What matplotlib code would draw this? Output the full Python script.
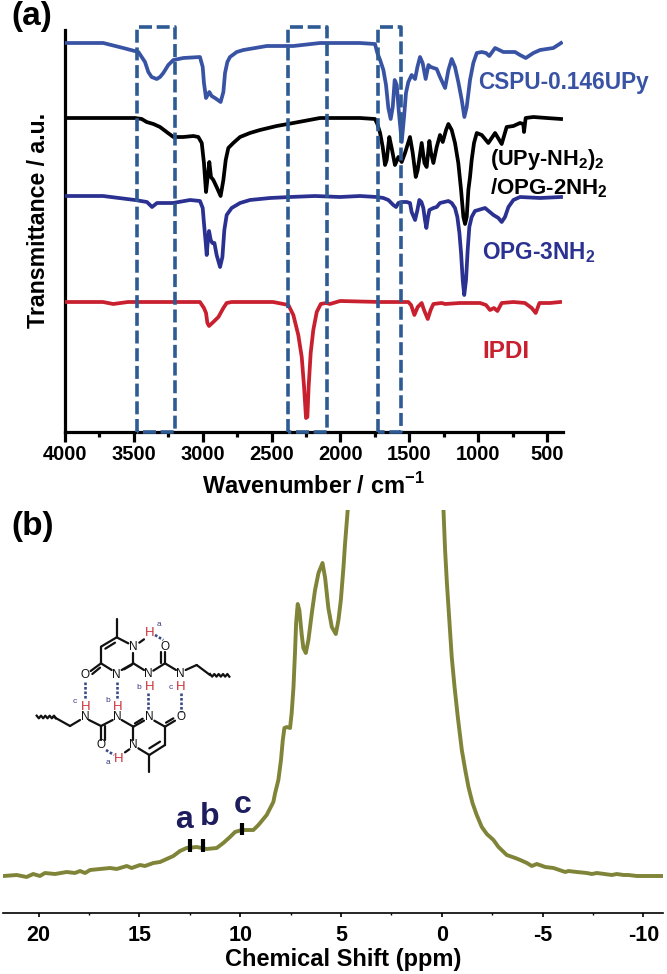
import matplotlib
matplotlib.use("Agg")
import matplotlib.pyplot as plt
from matplotlib.ticker import MultipleLocator

plt.rcParams['font.family'] = ['Liberation Sans', 'DejaVu Sans']
plt.rcParams['mathtext.fontset'] = 'custom'
plt.rcParams['mathtext.bf'] = 'Liberation Sans:bold'
plt.rcParams['mathtext.rm'] = 'Liberation Sans'
plt.rcParams['axes.unicode_minus'] = False

# ---- panel (a): FTIR, wavenumber (cm-1) and offset transmittance (a.u.)
cspu_wn = [4000,3722,3577,3467,3443,3419,3395,3371,3334,3310,3286,3250,3213,3141,3020,3000,2991,2976,2964,2952,2935,2911,2870,2850,2838,2821,2802,2753,2705,2535,2342,2148,
           1858,1749,1732,1712,1688,1669,1652,1635,1620,1606,1591,1577,1555,1538,1524,1507,1483,1458,1441,1422,1403,1381,1361,1344,1301,1277,1240,1216,1192,1168,1144,1119,1100,1083,1059,1035,1010,974,943,919,877,817,780,732,696,654,599,550,454,398]
cspu_t  = [389,389,384,380,375,370,360,355,353,355,359,367,372,374,375,365,349,334,337,340,336,334,330,340,359,370,375,380,382,386,386,389,
           389,388,379,372,362,347,324,313,325,352,347,322,290,315,339,350,357,353,365,375,369,353,367,365,363,355,344,362,373,365,350,332,315,325,352,369,379,380,379,376,384,380,380,380,377,374,379,382,384,389]

upy_wn = [4000,3492,3443,3407,3358,3310,3262,3213,3141,3068,3032,3007,2991,2976,2964,2952,2940,2923,2899,2870,2850,2833,2814,2778,2729,2657,2584,2463,2342,2148,
          1858,1749,1732,1712,1693,1676,1664,1645,1628,1604,1579,1555,1531,1495,1475,1453,1439,1410,1390,1374,1354,1342,1325,1301,1277,1257,1233,1216,
          1192,1168,1144,1124,1107,1095,1083,1071,1059,1047,1030,1010,974,926,877,829,793,744,696,672,667,655,599,502,398]
upy_t  = [314,314,313,310,308,305,300,295,295,296,295,289,269,240,255,270,255,252,245,236,252,272,284,289,295,299,302,306,309,314,
          314,313,308,299,285,267,272,295,284,267,275,270,279,295,279,255,262,289,269,265,291,279,269,285,297,290,302,308,
          302,289,269,242,215,208,215,242,255,272,289,299,297,289,299,288,305,306,309,308,300,314,315,314,313]

opg_wn = [4000,3724,3492,3405,3368,3332,3216,3092,3020,3000,2991,2978,2971,2964,2954,2942,2930,2915,2899,2874,2857,2843,2826,2790,2729,2657,2511,2366,2185,2003,
          1858,1737,1688,1652,1616,1596,1579,1555,1519,1495,1483,1458,1441,1427,1412,1398,1386,1376,1364,1354,1325,1301,1277,
          1216,1192,1168,1151,1136,1124,1112,1101,1088,1076,1064,1047,1023,950,889,853,829,805,780,744,696,550,398]
opg_t  = [236,236,232,230,225,229,229,232,231,224,209,189,177,189,201,192,189,189,177,165,175,202,217,224,229,232,234,235,236,235,
          236,235,234,232,227,225,229,230,230,229,220,212,222,232,230,224,212,204,215,222,224,225,229,
          231,229,224,215,199,179,152,137,152,182,205,215,221,224,217,214,210,215,225,232,235,234,235]

ipdi_wn = [4000,3724,3650,3543,3092,3020,2991,2976,2966,2954,2923,2886,2850,2826,2790,2489,2378,2342,2306,2281,2264,2250,2240,2231,2216,2197,2172,2143,2105,2076,2003,
           1712,1507,1487,1463,1439,1410,1393,1366,1345,1325,1265,1240,1132,986,943,914,885,860,829,744,660,611,582,555,478,405]
ipdi_t  = [130,130,128,130,130,130,124,119,109,106,110,115,124,129,130,130,127,117,97,75,45,14,15,45,79,102,120,128,129,128,131,
           130,130,127,117,125,129,122,113,122,128,129,128,129,129,127,122,124,121,129,130,129,124,119,129,129,130]

box_edges = [(3477, 3201), (2381, 2097), (1727, 1560)]
wn_ticks = [4000,3500,3000,2500,2000,1500,1000,500]

# ---- panel (b): 1H NMR
nmr_left_ppm = [21.75,21.09,20.6,20.27,19.94,19.69,19.19,18.61,18.2,17.95,17.7,17.45,16.96,16.46,16.13,15.63,15.39,14.97,14.73,14.31,13.98,13.65,13.32,12.99,12.66,12.16,11.67,11.17,10.84,10.51,10.26,9.93,9.35,9.1,8.69,8.36,
                8.27,8.11,7.98,7.89,7.81,7.69,7.53,7.45,7.36,7.28,7.23,7.15,7.07,6.95,6.87,6.75,6.62,6.45,6.29,6.12,5.92,5.79,5.63,5.46,5.26,5.13,5.01,4.88,4.8,4.67]
nmr_left_int = [37,38,36,39,37,40,39,41,40,42,40,43,44,45,44,47,45,48,47,50,51,54,57,62,65,66,64,65,70,76,81,83,83,88,98,111,
                120,133,153,173,185,186,185,200,226,263,290,309,303,278,265,260,273,300,323,340,350,335,305,286,279,293,313,346,370,403]
nmr_right_ppm = [-0.08,-0.16,-0.25,-0.36,-0.49,-0.63,-0.79,-0.99,-1.16,-1.32,-1.52,-1.73,-1.98,-2.23,-2.56,-2.81,-3.22,-3.64,-3.89,-4.22,-4.46,-4.71,-5.13,-5.54,-6.12,-6.28,-6.7,-7.19,-7.44,-7.69,-8.43,-8.68,-9.01,-9.26,-9.67,-10.34,-11.0]
nmr_right_int = [403,363,330,296,256,226,196,163,143,126,110,98,86,79,73,66,58,55,53,50,47,49,46,45,41,42,41,40,39,40,38,39,38,38,37,37,37]
mark_ppm = [12.49, 11.85, 9.9]
mark_low = [61, 61, 78]
mark_high = [74, 74, 90]
mark_names = ['a', 'b', 'c']
ppm_ticks = [20, 15, 10, 5, 0, -5, -10]

BLUE='#3953A4'; NAVY='#2B3190'; RED='#C8202F'; OLIVE='#7F8438'; BOX='#2E5B94'; DARK='#1D1D5E'

W, H = 667, 974
fig = plt.figure(figsize=(W/100, H/100), dpi=100)

def axes_px(l, r, t, b):
    return fig.add_axes([l/W, 1-b/H, (r-l)/W, (b-t)/H])

# ---------- (a)
ax = axes_px(65, 562.7, 27, 432)
ax.set_xlim(4000, 386); ax.set_ylim(0, 405)
for x, y, c in [(cspu_wn,cspu_t,BLUE),(upy_wn,upy_t,'black'),(opg_wn,opg_t,NAVY),(ipdi_wn,ipdi_t,RED)]:
    ax.plot(x, y, color=c, lw=2.7, solid_joinstyle='round', zorder=3)
for a, b in box_edges:
    ax.plot([a,a,b,b,a],[0,405,405,0,0], color=BOX, lw=2.6, ls=(0,(3.6,1.3)), clip_on=False, zorder=5)
for s in ('top','right'):
    ax.spines[s].set_visible(False)
ax.spines['left'].set_linewidth(2.3); ax.spines['bottom'].set_linewidth(2.3)
ax.spines['left'].set_bounds(0, 402)
ax.set_yticks([])
ax.set_xticks(wn_ticks)
ax.xaxis.set_minor_locator(MultipleLocator(250))
ax.tick_params(axis='x', which='major', length=7, width=2.3, pad=2, labelsize=14.5)
ax.tick_params(axis='x', which='minor', length=3.5, width=2.3)
for t in ax.get_xticklabels():
    t.set_fontweight('bold')

# ---------- (b)
bx = axes_px(3, 663, 510, 913)
bx.set_xlim(21.77, -10.97); bx.set_ylim(0, 403)
bx.plot(nmr_left_ppm, nmr_left_int, color=OLIVE, lw=2.8, zorder=3)
bx.plot(nmr_right_ppm, nmr_right_int, color=OLIVE, lw=2.8, zorder=3)
bx.vlines(mark_ppm, mark_low, mark_high, color='black', lw=3, zorder=4)
for s in ('top','right','left'):
    bx.spines[s].set_visible(False)
bx.spines['bottom'].set_linewidth(1.2)
bx.set_yticks([])
bx.set_xticks(ppm_ticks)
bx.xaxis.set_minor_locator(MultipleLocator(2.5))
bx.tick_params(axis='x', which='major', length=3, width=1.2, pad=5.5, labelsize=15.5)
bx.tick_params(axis='x', which='minor', length=1.5, width=1)
for t in bx.get_xticklabels():
    t.set_fontweight('bold')

# ---------- overlay, in pixels
ov = fig.add_axes([0,0,1,1], zorder=10)
ov.set_xlim(0,W); ov.set_ylim(H,0); ov.axis('off'); ov.patch.set_alpha(0)

def T(x,y,s,**k):
    k.setdefault('ha','left'); k.setdefault('va','center'); k.setdefault('fontweight','bold')
    ov.text(x,y,s,**k)

T(11,17,'(a)',fontsize=24)
T(11,526,'(b)',fontsize=24)
T(39,220,'Transmittance / a.u.',fontsize=16.7,rotation=90,ha='center')
T(313,486,r'Wavenumber / cm$^{\mathbf{-1}}$',fontsize=17,ha='center')
T(343,966,'Chemical Shift (ppm)',fontsize=17,ha='center',va='baseline')
T(478,82,'CSPU-0.146UPy',fontsize=16.3,color=BLUE)
T(490,160,r'(UPy-NH$_{\mathbf{2}}$)$_{\mathbf{2}}$',fontsize=15.7,color='black')
T(490,188,r'/OPG-2NH$_{\mathbf{2}}$',fontsize=16,color='black')
T(482,253,r'OPG-3NH$_{\mathbf{2}}$',fontsize=16.3,color=NAVY)
T(482,352,'IPDI',fontsize=17.5,color=RED)
for name, (x,y) in zip(mark_names, [(184,820),(210,817),(243,805)]):
    T(x,y,name,fontsize=23,color=DARK,ha='center')

# molecule, positions in a local sketch frame
def P(x,y): return 20+x/3, 600+y/3
bonds = [
 (290,58,290,112),(290,112,325,130),(290,112,243,140),(243,140,243,190),(243,190,275,210),
 (305,210,340,190),(340,190,340,158),(285,128,256,146),(312,208,335,195),(243,190,212,213),(240,203,217,222),
 (340,190,372,210),(400,212,435,190),(435,190,435,155),(423,190,423,157),(435,190,468,210),(497,210,530,195),(530,195,570,225),
 (358,128,372,118),
 (100,350,150,378),(150,378,180,360),(207,360,243,378),(243,378,278,360),(243,378,243,420),(255,378,255,420),
 (305,360,340,380),(340,380,372,362),(345,370,368,356),(340,380,340,420),(403,362,435,380),(435,380,465,362),(438,368,460,355),
 (435,380,435,435),(435,435,388,465),(420,425,388,445),(388,465,355,445),(388,465,388,517),(328,448,315,457),
]
for x1,y1,x2,y2 in bonds:
    a,b = P(x1,y1),P(x2,y2)
    ov.plot([a[0],b[0]],[a[1],b[1]],color='#111111',lw=1.6,solid_capstyle='round')
for x0,y0 in [(570,225),(50,350)]:
    xs=[x0+i*6.5 for i in range(9)]+[x0+58]
    ys=[y0+(5 if i%2 else -3) for i in range(10)]
    q=[P(a,b) for a,b in zip(xs,ys)]
    ov.plot([p[0] for p in q],[p[1] for p in q],color='#111111',lw=1.6)
for x1,y1,x2,y2 in [(405,105,430,120),(195,245,195,300),(290,245,290,300),(385,278,385,330),(482,278,482,335),(258,450,282,465)]:
    a,b = P(x1,y1),P(x2,y2)
    ov.plot([a[0],b[0]],[a[1],b[1]],color='#3B4A86',lw=1.9,ls=(0,(1,0.7)))
for x,y,s in [(340,142,'N'),(290,225,'N'),(385,222,'N'),(482,222,'N'),(435,140,'O'),(195,225,'O'),
              (195,352,'N'),(292,352,'N'),(388,352,'N'),(483,352,'O'),(243,435,'O'),(340,435,'N')]:
    px,py=P(x,y)
    ov.text(px,py,s,fontsize=8.5,ha='center',va='center',color='#111111')
for x,y in [(388,100),(388,260),(482,262),(197,320),(292,320),(295,478)]:
    px,py=P(x,y)
    ov.text(px,py,'H',fontsize=9.5,ha='center',va='center',color='#C8323A')
for x,y,s in [(418,72,'a'),(357,262,'b'),(453,262,'c'),(165,305,'c'),(262,300,'b'),(265,488,'a')]:
    px,py=P(x,y)
    ov.text(px,py,s,fontsize=6,ha='center',va='center',color='#3B3B80')

fig.savefig('out.png', dpi=100)
